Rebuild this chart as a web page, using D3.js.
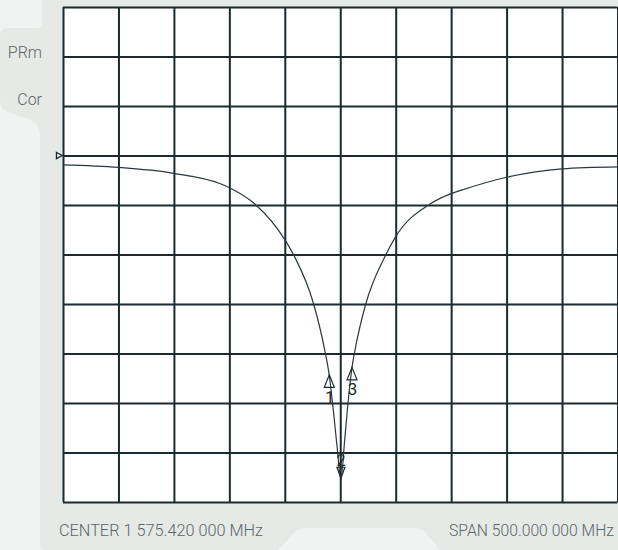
<!doctype html>
<html>
<head>
<meta charset="utf-8" />
<script src="https://d3js.org/d3.v7.min.js"></script>
<style>
  body{ margin: 0; background: #f1f2f2; }
  text{ font-family: Roboto, "Noto Sans", sans-serif; }
</style>
</head>
<body>
</body>
<script>
// trace: frequency offset from center (MHz) and level (dB)
var freqOffsets = [-250, -200, -150, -108, -99, -77, -50, -42, -24, -14, -10, -6, -3, 0.6, 4, 7, 10.6, 13.3, 23, 41, 50, 81, 100, 108, 150, 200, 250];
var levels = [-1.9, -2.4, -3.6, -5.7, -6.6, -9.8, -17.0, -20.1, -30.0, -39.3, -44.3, -52, -58.5, -65.2, -57.5, -50, -42.8, -39.3, -30.0, -20.1, -16.4, -9.8, -7.7, -7.1, -4.4, -2.7, -2.3];

var markerIds = ["1", "2", "3"];
var markerFreqs = [-9.9, 0.6, 10.6];
var markerLevels = [-44.3, -65.2, -42.8];

var xTicks = [-250, -200, -150, -100, -50, 0, 50, 100, 150, 200, 250];
var yTicks = [-70, -60, -50, -40, -30, -20, -10, 0, 10, 20, 30];
var refLevel = 0;

var sideLabels = ["PRm", "Cor"];
var centerLabel = "CENTER 1 575.420 000 MHz";
var spanLabel = "SPAN 500.000 000 MHz";

function chart(){
    var svg = d3.select("body").append("svg").attr("width", 618).attr("height", 550);

    svg.append("rect").attr("width", 618).attr("height", 550).attr("fill", "#f1f2f2");

    // instrument panel
    svg.append("path")
        .attr("d", "M42,0 H618 V550 H440 L424,531 Q421,528 416,528 H304 Q299,528 296,531 L278,550 H46 Q40,550 40,544 V136 Q40,124 30,120 L8,112 Q0,109 0,100 V36 Q0,28 8,28 H36 Q42,28 42,22 Z")
        .attr("fill", "#e5eae7");

    var x = d3.scaleLinear().domain([-250, 250]).range([63, 617.5]);
    var y = d3.scaleLinear().domain([-70, 30]).range([502, 7]);

    svg.append("rect")
        .attr("x", x(-250)).attr("y", y(30))
        .attr("width", x(250) - x(-250)).attr("height", y(-70) - y(30))
        .attr("fill", "#ffffff");

    var xGrid = d3.axisBottom(x).tickValues(xTicks).tickSize(-(y(-70) - y(30))).tickFormat("");
    var yGrid = d3.axisLeft(y).tickValues(yTicks).tickSize(-(x(250) - x(-250))).tickFormat("");

    svg.append("g").attr("class", "xGrid")
        .attr("transform", `translate(0, ${y(-70)})`)
        .call(xGrid);
    svg.append("g").attr("class", "yGrid")
        .attr("transform", `translate(${x(-250)}, 0)`)
        .call(yGrid);

    svg.selectAll(".xGrid .domain, .yGrid .domain").remove();
    svg.selectAll(".xGrid line, .yGrid line")
        .attr("stroke", "#1b2a2f")
        .attr("stroke-width", 2);

    // reference level marker
    var ry = y(refLevel);
    svg.append("path")
        .attr("d", `M56.5,${ry - 3} L62,${ry} L56.5,${ry + 3} Z`)
        .attr("fill", "#ffffff")
        .attr("stroke", "#1b2a2f")
        .attr("stroke-width", 1.4);

    var pts = freqOffsets.map((f, i) => [f, levels[i]]);
    var line = d3.line()
        .x(d => x(d[0]))
        .y(d => y(d[1]))
        .curve(d3.curveMonotoneX);

    svg.append("path")
        .datum(pts)
        .attr("d", line)
        .attr("fill", "none")
        .attr("stroke", "#2a383c")
        .attr("stroke-width", 1.2);

    // markers
    markerIds.forEach(function(id, i){
        var mx = x(markerFreqs[i]);
        var my = y(markerLevels[i]);
        var g = svg.append("g").attr("transform", `translate(${mx}, ${my})`);
        if (id === "2") {
            g.append("path").attr("d", "M-4,-11 L4,-11 L0,0 Z")
                .attr("fill", "none").attr("stroke", "#1b2a2f").attr("stroke-width", 1.2);
            g.append("text").attr("x", 0).attr("y", -12).attr("text-anchor", "middle")
                .attr("font-size", 16).attr("fill", "#1b2a2f").text(id);
        } else {
            g.append("path").attr("d", "M0,0 L5,12.5 L-5,12.5 Z")
                .attr("fill", "none").attr("stroke", "#1b2a2f").attr("stroke-width", 1.2);
            g.append("text").attr("x", 0.5).attr("y", 28).attr("text-anchor", "middle")
                .attr("font-size", 17).attr("fill", "#1b2a2f").text(id);
        }
    });

    svg.selectAll("text.side")
        .data(sideLabels)
        .enter()
        .append("text")
        .attr("class", "side")
        .attr("x", 42)
        .attr("y", (d, i) => 58.3 + i * 46.2)
        .attr("text-anchor", "end")
        .attr("font-size", 16)
        .attr("font-weight", 300)
        .attr("fill", "#5c6668")
        .text(d => d);

    svg.append("text")
        .attr("x", 59).attr("y", 536)
        .attr("font-size", 16.5)
        .attr("font-weight", 300)
        .attr("fill", "#5c6668")
        .attr("textLength", 204).attr("lengthAdjust", "spacingAndGlyphs")
        .text(centerLabel);

    svg.append("text")
        .attr("x", 449).attr("y", 536)
        .attr("font-size", 15.6)
        .attr("font-weight", 300)
        .attr("fill", "#5c6668")
        .attr("textLength", 165).attr("lengthAdjust", "spacingAndGlyphs")
        .text(spanLabel);
}

chart();
</script>
</html>
